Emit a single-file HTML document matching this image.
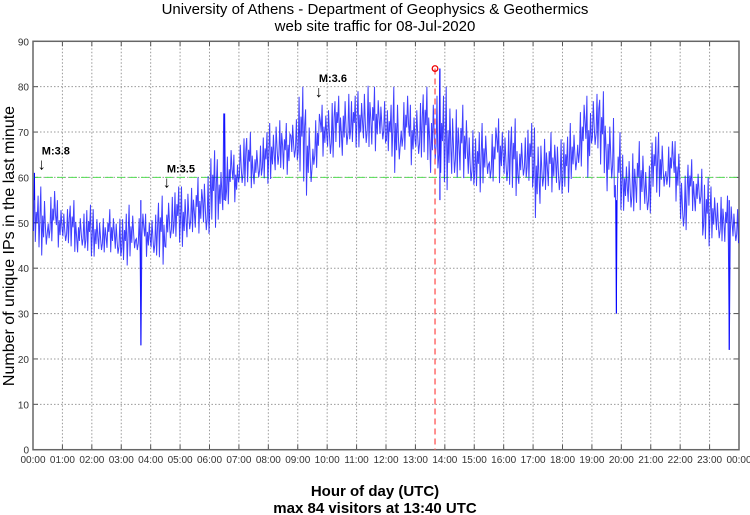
<!DOCTYPE html>
<html><head><meta charset="utf-8"><style>
body{margin:0;background:#fff;}
svg{display:block;font-family:"Liberation Sans",sans-serif;}
</style></head><body>
<svg id="chart" width="750" height="515">
<text x="375" y="14" text-anchor="middle" font-size="15">University of Athens - Department of Geophysics &amp; Geothermics</text>
<text x="375" y="31" text-anchor="middle" font-size="15">web site traffic for 08-Jul-2020</text>
<text transform="translate(14,246) rotate(-90)" text-anchor="middle" font-size="16">Number of unique IPs in the last minute</text>
<text x="375" y="496" text-anchor="middle" font-size="15" font-weight="bold">Hour of day (UTC)</text>
<text x="375" y="513" text-anchor="middle" font-size="15" font-weight="bold">max 84 visitors at 13:40 UTC</text>
<g id="grid"></g><g id="series"></g><g id="ann"></g>
</svg>
<script>
const yTicks=[0,10,20,30,40,50,60,70,80,90];
const xTickLabels=["00:00","01:00","02:00","03:00","04:00","05:00","06:00","07:00","08:00","09:00","10:00","11:00","12:00","13:00","14:00","15:00","16:00","17:00","18:00","19:00","20:00","21:00","22:00","23:00","00:00"];
const binLow=[44,42,44,44,44,43,43,42,42,42,43,41,40,42,42,42,41,40,44,45,44,46,47,45,48,50,52,54,56,57,58,58,59,60,60,62,58,55,60,64,62,66,64,66,66,64,65,66,64,60,64,62,62,63,60,58,56,57,59,56,56,58,57,58,56,55,58,57,50,55,56,54,56,59,60,59,64,60,56,52,52,50,52,50,56,55,56,54,46,52,52,44,46,44,44,44];
const binHigh=[56,58,57,55,54,55,53,54,53,52,53,52,52,54,52,52,53,56,57,58,58,59,60,62,66,64,66,65,70,70,68,70,72,74,72,74,80,75,74,76,78,78,80,78,79,82,80,78,76,80,78,76,78,80,80,78,80,77,76,72,70,72,71,73,72,73,70,72,71,70,70,70,69,72,76,78,80,79,75,70,65,67,68,64,69,70,68,68,62,64,63,60,58,57,56,54];
const spikeMinutes=[3,220,390,830,1190,1420];
const spikeValues=[61,23,74,84,30,22];
const threshold=60;
const maxMinute=820, maxValue=84;
const quakeMinutes=[20,275,585];
const quakeLabels=["M:3.8","M:3.5","M:3.6"];
const quakeLevels=[62,58,78];

const X0=33,X1=739,Y0=449.7,Y90=41.3;
const sx=m=>X0+(X1-X0)*m/1440;
const sy=v=>Y0-(Y0-Y90)*v/90;
const NS="http://www.w3.org/2000/svg";
function mk(p,t,a){const e=document.createElementNS(NS,t);for(const k in a)e.setAttribute(k,a[k]);p.appendChild(e);return e;}
const grid=document.getElementById('grid'),ser=document.getElementById('series'),ann=document.getElementById('ann');
yTicks.forEach(v=>{
 const y=sy(v);
 if(v>0&&v<90){const l=mk(grid,'line',{x1:X0,x2:X1,y1:y,y2:y,stroke:'#999','stroke-dasharray':'1.5,2','stroke-width':1});
 
 }
 mk(grid,'line',{x1:X0,x2:X0+5,y1:y,y2:y,stroke:'#555'});
 mk(grid,'line',{x1:X1-5,x2:X1,y1:y,y2:y,stroke:'#555'});
 const t=mk(grid,'text',{x:X0-4,y:y+4,'text-anchor':'end','font-size':10,fill:'#333'});t.textContent=v;
 
 
});
xTickLabels.forEach((s,i)=>{
 const x=sx(i*60);
 if(i>0&&i<24){const l=mk(grid,'line',{x1:x,x2:x,y1:Y90,y2:Y0,stroke:'#999','stroke-dasharray':'1.5,2'});
 
 }
 mk(grid,'line',{x1:x,x2:x,y1:Y0-5,y2:Y0,stroke:'#555'});
 mk(grid,'line',{x1:x,x2:x,y1:Y90,y2:Y90+5,stroke:'#555'});
 const t=mk(grid,'text',{x:x,y:463,'text-anchor':'middle','font-size':10,fill:'#333'});t.textContent=s;
 
 
});
const fr=mk(grid,'rect',{x:X0,y:Y90,width:X1-X0,height:Y0-Y90,fill:'none',stroke:'#666','stroke-width':1.5});


const th=mk(grid,'line',{x1:X0,x2:X1,y1:sy(threshold),y2:sy(threshold),stroke:'#5d5','stroke-dasharray':'8,4'});


// traffic trace
const pat=[0.35,0.9,0.15,0.7,0.5,1,0.05,0.6,0.3,0.8,0.45,0.2];
const per=8;
let pts=[];const bw=1440/binLow.length;
binLow.forEach((lo,i)=>{const hi=binHigh[i];
 for(let k=0;k<per;k++){const m=i*bw+bw*(k+0.5)/per;
  let v=lo+(hi-lo)*pat[(k+i*5)%pat.length];
  const si=spikeMinutes.findIndex(s=>Math.abs(s-m)<bw/per/2+0.01);
  if(si>=0)v=spikeValues[si];
  pts.push(sx(m).toFixed(1)+','+sy(v).toFixed(1));}
});
const pl=mk(ser,'polyline',{points:pts.join(' '),fill:'none',stroke:'#0000ff','stroke-width':1,'stroke-opacity':0.75});


spikeMinutes.forEach((m,i)=>{const l=mk(ser,'line',{x1:sx(m),x2:sx(m),y1:sy(55),y2:sy(spikeValues[i]),stroke:'#0000ff','stroke-width':1});
 
 });
const ml=mk(ann,'line',{x1:sx(maxMinute),x2:sx(maxMinute),y1:sy(maxValue),y2:Y0,stroke:'#f55','stroke-dasharray':'6,4','stroke-width':1.3});


const mc=mk(ann,'circle',{cx:sx(maxMinute),cy:sy(maxValue),r:2.8,fill:'none',stroke:'#e00','stroke-width':1.3});


quakeMinutes.forEach((m,i)=>{const x=sx(m),y=sy(quakeLevels[i]);
 const t=mk(ann,'text',{x:x-1,y:y-14,'font-size':11,'font-weight':'bold'});t.textContent=quakeLabels[i];
 
 
 const a=mk(ann,'text',{x:x-5,y:y+1,'font-size':16,'font-weight':'bold'});a.textContent='↓';
 
 
});
</script>
</body></html>
